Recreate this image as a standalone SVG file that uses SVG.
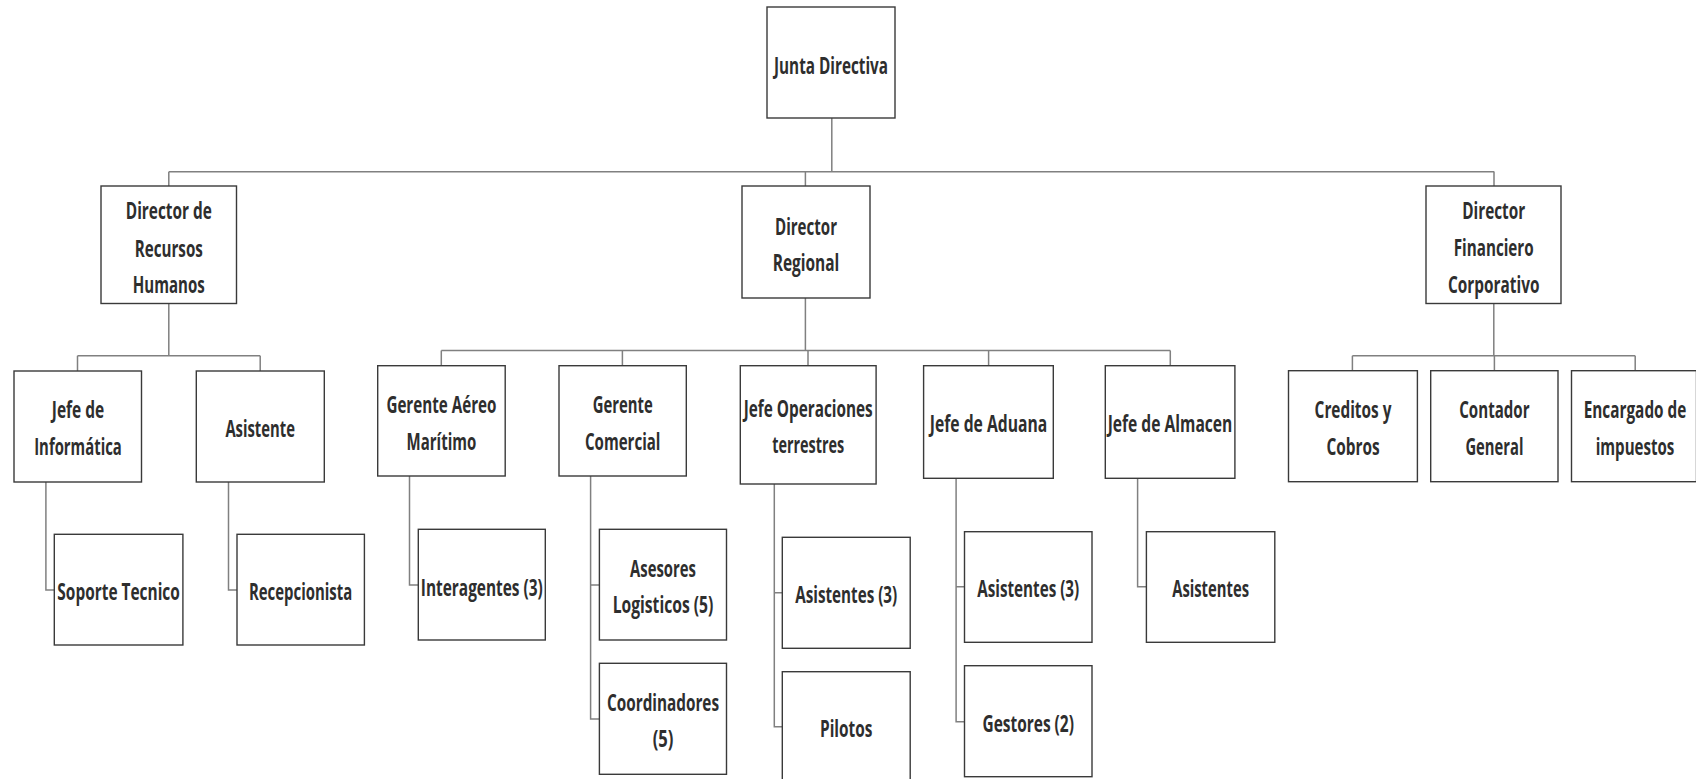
<svg xmlns="http://www.w3.org/2000/svg" width="1696" height="779" viewBox="0 0 1696 779">
<style>
.bg{fill:#ffffff}
.box{fill:#ffffff;stroke:#3a3a3a;stroke-width:1.4}
.lbl{font-family:"Open Sans","Liberation Sans",sans-serif;font-weight:bold;font-size:24px;fill:#2e2e2e;text-anchor:middle}
.con{fill:none;stroke:#808080;stroke-width:1.5}
</style>
<rect class="bg" x="0" y="0" width="1696" height="779"/>
<g id="connectors">
<path class="con" d="M831.8,118 V171.7 M168.8,171.7 H1494.3 M168.8,171.7 V186 M805.4,171.7 V186 M1494,171.7 V186"/>
<path class="con" d="M168.8,303.3 V355.7 M77.5,355.7 H260.2 M77.5,355.7 V371 M260.2,355.7 V371"/>
<path class="con" d="M805.4,297.7 V350.5 M441.3,350.5 H1170.3 M441.3,350.5 V365.7 M622.4,350.5 V365.7 M808,350.5 V365.7 M988.6,350.5 V365.7 M1170.3,350.5 V365.7"/>
<path class="con" d="M1493.8,303.3 V355.7 M1352.4,355.7 H1635.2 M1352.4,355.7 V370.7 M1494.4,355.7 V370.7 M1635.2,355.7 V370.7"/>
<path class="con" d="M45.9,481.7 V590 H54.3"/>
<path class="con" d="M228.5,481.7 V590 H237"/>
<path class="con" d="M409.5,476 V585 H418.3"/>
<path class="con" d="M590.6,476 V719 H599.4 M590.6,585 H599.4"/>
<path class="con" d="M774.3,484 V726.7 H782.3 M774.3,592.7 H782.3"/>
<path class="con" d="M956.1,478.3 V721.7 H964.5 M956.1,586.7 H964.5"/>
<path class="con" d="M1137.6,478.3 V586.7 H1146.4"/>
</g>
<g id="junta"><rect class="box" x="767" y="7" width="128" height="111"/><text class="lbl" x="831" y="74" textLength="114" lengthAdjust="spacingAndGlyphs">Junta Directiva</text></g>
<g id="dir_rrhh"><rect class="box" x="101" y="186" width="135.5" height="117.5"/>
<text class="lbl" x="168.8" y="219" textLength="86" lengthAdjust="spacingAndGlyphs">Director de</text>
<text class="lbl" x="168.8" y="256.5" textLength="68" lengthAdjust="spacingAndGlyphs">Recursos</text>
<text class="lbl" x="168.8" y="293" textLength="72" lengthAdjust="spacingAndGlyphs">Humanos</text></g>
<g id="dir_regional"><rect class="box" x="742" y="186" width="128" height="112"/>
<text class="lbl" x="806" y="235" textLength="62" lengthAdjust="spacingAndGlyphs">Director</text>
<text class="lbl" x="806" y="271" textLength="66.6" lengthAdjust="spacingAndGlyphs">Regional</text></g>
<g id="dir_fin"><rect class="box" x="1426" y="186" width="135" height="117.5"/>
<text class="lbl" x="1493.7" y="219" textLength="63" lengthAdjust="spacingAndGlyphs">Director</text>
<text class="lbl" x="1493.7" y="256" textLength="80" lengthAdjust="spacingAndGlyphs">Financiero</text>
<text class="lbl" x="1493.7" y="292.7" textLength="91.5" lengthAdjust="spacingAndGlyphs">Corporativo</text></g>
<g id="jefe_inf"><rect class="box" x="14" y="371" width="127.5" height="111"/>
<text class="lbl" x="78" y="418.3" textLength="52.4" lengthAdjust="spacingAndGlyphs">Jefe de</text>
<text class="lbl" x="78" y="455" textLength="87.6" lengthAdjust="spacingAndGlyphs">Informática</text></g>
<g id="asistente"><rect class="box" x="196.3" y="371" width="128" height="111"/>
<text class="lbl" x="260.2" y="436.7" textLength="69.6" lengthAdjust="spacingAndGlyphs">Asistente</text></g>
<g id="soporte"><rect class="box" x="54.3" y="534.3" width="128.6" height="110.7"/>
<text class="lbl" x="118.6" y="600" textLength="122.5" lengthAdjust="spacingAndGlyphs">Soporte Tecnico</text></g>
<g id="recepcionista"><rect class="box" x="237" y="534.3" width="127.4" height="110.7"/>
<text class="lbl" x="300.6" y="600" textLength="103.3" lengthAdjust="spacingAndGlyphs">Recepcionista</text></g>
<g id="gerente_aereo"><rect class="box" x="377.7" y="365.7" width="127.5" height="110.3"/>
<text class="lbl" x="441.4" y="413.3" textLength="110" lengthAdjust="spacingAndGlyphs">Gerente Aéreo</text>
<text class="lbl" x="441.4" y="450" textLength="69.7" lengthAdjust="spacingAndGlyphs">Marítimo</text></g>
<g id="interagentes"><rect class="box" x="418.3" y="529.3" width="127" height="110.7"/>
<text class="lbl" x="481.8" y="596" textLength="122" lengthAdjust="spacingAndGlyphs">Interagentes (3)</text></g>
<g id="gerente_com"><rect class="box" x="559" y="365.7" width="127.3" height="110.3"/>
<text class="lbl" x="622.7" y="413.3" textLength="60" lengthAdjust="spacingAndGlyphs">Gerente</text>
<text class="lbl" x="622.7" y="450" textLength="75.4" lengthAdjust="spacingAndGlyphs">Comercial</text></g>
<g id="asesores"><rect class="box" x="599.4" y="529.3" width="127.1" height="110.7"/>
<text class="lbl" x="663" y="576.7" textLength="65.8" lengthAdjust="spacingAndGlyphs">Asesores</text>
<text class="lbl" x="663" y="613.3" textLength="100.7" lengthAdjust="spacingAndGlyphs">Logisticos (5)</text></g>
<g id="coordinadores"><rect class="box" x="599.4" y="663.3" width="127.1" height="111"/>
<text class="lbl" x="663" y="710.7" textLength="112" lengthAdjust="spacingAndGlyphs">Coordinadores</text>
<text class="lbl" x="663" y="747" textLength="20.7" lengthAdjust="spacingAndGlyphs">(5)</text></g>
<g id="jefe_ops"><rect class="box" x="740.3" y="365.7" width="135.8" height="118.3"/>
<text class="lbl" x="808.2" y="417.3" textLength="129" lengthAdjust="spacingAndGlyphs">Jefe Operaciones</text>
<text class="lbl" x="808.2" y="453.3" textLength="72" lengthAdjust="spacingAndGlyphs">terrestres</text></g>
<g id="asist_ops"><rect class="box" x="782.3" y="537.3" width="127.9" height="111"/>
<text class="lbl" x="846.2" y="603.3" textLength="102" lengthAdjust="spacingAndGlyphs">Asistentes (3)</text></g>
<g id="pilotos"><rect class="box" x="782.3" y="671.7" width="127.9" height="111"/>
<text class="lbl" x="846.2" y="736.7" textLength="52.4" lengthAdjust="spacingAndGlyphs">Pilotos</text></g>
<g id="jefe_aduana"><rect class="box" x="923.6" y="365.7" width="129.7" height="112.6"/>
<text class="lbl" x="988.5" y="432.3" textLength="117.5" lengthAdjust="spacingAndGlyphs">Jefe de Aduana</text></g>
<g id="asist_aduana"><rect class="box" x="964.5" y="531.7" width="127.5" height="110.6"/>
<text class="lbl" x="1028.2" y="597.3" textLength="102" lengthAdjust="spacingAndGlyphs">Asistentes (3)</text></g>
<g id="gestores"><rect class="box" x="964.5" y="665.7" width="127.5" height="111"/>
<text class="lbl" x="1028.2" y="731.7" textLength="91.5" lengthAdjust="spacingAndGlyphs">Gestores (2)</text></g>
<g id="jefe_almacen"><rect class="box" x="1105.3" y="365.7" width="129.6" height="112.6"/>
<text class="lbl" x="1170" y="432.3" textLength="124.7" lengthAdjust="spacingAndGlyphs">Jefe de Almacen</text></g>
<g id="asist_almacen"><rect class="box" x="1146.4" y="531.7" width="128.4" height="110.6"/>
<text class="lbl" x="1210.6" y="597.3" textLength="76.8" lengthAdjust="spacingAndGlyphs">Asistentes</text></g>
<g id="creditos"><rect class="box" x="1288.5" y="370.7" width="128.9" height="111"/>
<text class="lbl" x="1353" y="418.3" textLength="76.8" lengthAdjust="spacingAndGlyphs">Creditos y</text>
<text class="lbl" x="1353" y="455" textLength="53.2" lengthAdjust="spacingAndGlyphs">Cobros</text></g>
<g id="contador"><rect class="box" x="1430.7" y="370.7" width="127.3" height="111"/>
<text class="lbl" x="1494.4" y="418.3" textLength="70.3" lengthAdjust="spacingAndGlyphs">Contador</text>
<text class="lbl" x="1494.4" y="455" textLength="58" lengthAdjust="spacingAndGlyphs">General</text></g>
<g id="encargado"><rect class="box" x="1571.5" y="370.7" width="125" height="111"/>
<text class="lbl" transform="translate(1635 418.3) scale(0.62 1)" x="0" y="0" textLength="165.6" lengthAdjust="spacingAndGlyphs">Encargado de</text>
<text class="lbl" transform="translate(1635 455) scale(0.62 1)" x="0" y="0" textLength="126.9" lengthAdjust="spacingAndGlyphs">impuestos</text></g>
</svg>
